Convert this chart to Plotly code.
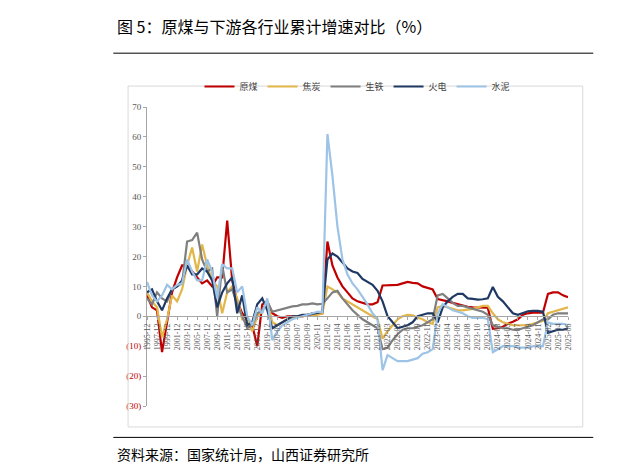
import plotly.graph_objects as go

# categories: annual (Dec) 1995-2019, then monthly cumulative 2020-02 .. 2025-06 (Jan merged)
periods = [f"{y}-12" for y in range(1995, 2020)]
for y in range(2020, 2025):
    periods += [f"{y}-{m:02d}" for m in range(2, 13)]
periods += [f"2025-{m:02d}" for m in range(2, 7)]

coal = [7, 3, 2, -12, -2, 8, 13, 17, 17, 15, 13, 11, 12, 10, 13, 13, 32, 12, 5, 1, -1, -3, -10, 4, 5,
        1, 0, -0.5, 0, 0, 0, 0, 0.5, 1, 0.8, 1,
        25, 17, 13, 10, 8, 6, 5, 4.5, 4, 4, 4.7,
        10.3, 10.4, 10.5, 10.5, 11, 11.5, 11.2, 11, 10, 9.5, 9,
        5.8, 5.5, 5, 4.5, 4, 3.5, 3.2, 3, 3, 3, 2.9,
        -4.2, -4, -3.5, -2.5, -1.8, -1, 0.5, 1, 1.2, 1.3, 1.2,
        7.5, 8, 8, 7, 6.4]
coke = [8, 5, 3, -7, -1, 7, 5, 9, 17, 23, 15, 24, 17, 12, 10, 1, 8, 10, 6, -1, -1, -5, 0, 2, 5,
        -2, -3, -2, -1, -0.5, 0, 0, 0.5, 0.5, 0.5, 1,
        10, 9, 8, 6, 5, 4, 3, 2, 1, 0, -1,
        -7.5, -5, -3, -1, 0, 0.5, 0.3, -0.5, -1, -2, -2.5,
        3, 3.5, 3, 2.5, 2, 2, 2.2, 2.5, 3, 3.5, 3.5,
        1, -1, -2, -2.5, -3, -3, -3, -3, -2.5, -2, -1.5,
        1, 1.5, 2, 2.5, 3]
pig_iron = [6, 4, 8, 6, 5, 9, 10, 11, 25, 25.5, 28, 19, 15, 16, 0, 17, 8, 9, 4, 0, -4, -3, 1, 2, 5,
            1.5, 2, 2.5, 3, 3.3, 3.5, 4, 4, 4.3, 4, 4.2,
            6, 8, 8.5, 6, 4, 2, 0.5, -1, -2, -3, -4,
            -11, -10.5, -8, -6, -4.5, -4, -4, -3.5, -3, -2, -1,
            7, 7.5, 6, 4.5, 3.5, 3.5, 3, 2.5, 2, 1.5, 0.5,
            -3, -3.5, -4, -4, -4.5, -4.5, -4, -3.5, -3, -2, -1,
            -1, 0.5, 1, 1, 1]
thermal = [8, 9, 5, 2, 6, 9, 10, 12, 17, 14, 14, 16, 15, 12, 3, 8, 11, 13, 1, 7, -3, -2, 4, 6, 2,
           -4, -3, -2, -1, 0, 0, 0.5, 0.5, 0.8, 1, 1.5,
           19, 21, 20, 18, 16, 15, 14.5, 12.5, 11.5, 10.5, 8.5,
           5, 0, -2, -4, -3.5, -3, -2, 0, 0.5, 1, 1,
           -2, 3, 5, 6.5, 7.5, 7.5, 6, 5.8, 5.6, 5.7, 6,
           9.8, 6.5, 5, 3, 1, 0.5, 1, 1.7, 1.8, 1.8, 1.5,
           -5.5, -5, -4.5, -4.5, -4]
cement = [11.5, 7, 5, 7, 10.5, 9, 10.5, 11, 19, 15, 12, 12, 19, 15, 6, 17.5, 16, 16, 8, 10, 0, -3, 3, 1, 6,
          -8, -5, -3, -2, -1, -0.5, 0, 0.5, 1, 1.5, 1.5,
          61, 47, 30, 19, 14, 11, 9, 6.5, 4, 1, -1,
          -18, -13, -14, -15, -15, -15, -14.5, -14, -12.5, -12, -11,
          1, 4, 3, 2, 1.5, 1, 0, -0.5, -0.5, -0.5, -1,
          -12, -11, -10, -10, -10, -10.5, -10.5, -10.5, -10, -10, -10,
          -2, -2.5, -2.5, -2.5, -3]

series = [("原煤", coal, "#C00000"), ("焦炭", coke, "#E3B64A"), ("生铁", pig_iron, "#7F7F7F"),
          ("火电", thermal, "#1F3864"), ("水泥", cement, "#9DC3E6")]

y_ticks = list(range(-30, 71, 10))
y_text = [f"<span style='color:#C00000'>({-v})</span>" if v < 0 else str(v) for v in y_ticks]

fig = go.Figure()
for name, vals, color in series:
    fig.add_trace(go.Scatter(x=periods, y=vals, name=name, mode="lines",
                             line=dict(color=color, width=2.2)))

fig.update_layout(
    width=622, height=468, plot_bgcolor="white", paper_bgcolor="white",
    margin=dict(l=139, r=62, t=99, b=70, autoexpand=False),
    font=dict(family="Liberation Serif, Noto Sans CJK SC", size=9, color="#595959"),
    legend=dict(orientation="h", x=0.5, xanchor="center", y=1.02, yanchor="bottom",
                bgcolor="rgba(0,0,0,0)",
                font=dict(family="Noto Sans CJK SC", size=9, color="#404040"),
                itemwidth=30, tracegroupgap=0),
    showlegend=True,
)
fig.update_xaxes(type="category", tickvals=periods[::2], ticktext=periods[::2],
                 tickangle=-90, tickfont=dict(size=8, color="#595959"), automargin=False,
                 anchor="free", position=0.3, showline=True, linecolor="#A6A6A6",
                 ticks="outside", ticklen=3, tickcolor="#A6A6A6", showgrid=False)
fig.update_yaxes(range=[-30, 70], tickvals=y_ticks, ticktext=y_text, showgrid=False,
                 showline=True, linecolor="#A6A6A6", ticks="outside", ticklen=3, automargin=False,
                 tickcolor="#A6A6A6", zeroline=False, tickfont=dict(size=9))

# frame around chart area
fig.add_shape(type="rect", xref="paper", yref="paper", x0=-0.045, x1=1.035, y0=-0.07, y1=1.07,
              line=dict(color="#D9D9D9", width=1))
fig.add_annotation(text="图 5：原煤与下游各行业累计增速对比（%）", xref="paper", yref="paper",
                   x=-0.075, y=1.27, xanchor="left", yanchor="middle", showarrow=False,
                   font=dict(family="Noto Sans CJK SC", size=16, color="#000000"))
fig.add_shape(type="line", xref="paper", yref="paper", x0=-0.08, x1=1.06, y0=1.18, y1=1.18,
              line=dict(color="#000000", width=1))
fig.add_shape(type="line", xref="paper", yref="paper", x0=-0.08, x1=1.06, y0=-0.105, y1=-0.105,
              line=dict(color="#000000", width=1))
fig.add_annotation(text="资料来源：国家统计局，山西证券研究所", xref="paper", yref="paper",
                   x=-0.075, y=-0.16, xanchor="left", yanchor="middle", showarrow=False,
                   font=dict(family="Noto Sans CJK SC", size=14, color="#000000"))

fig.write_html("out.html")
